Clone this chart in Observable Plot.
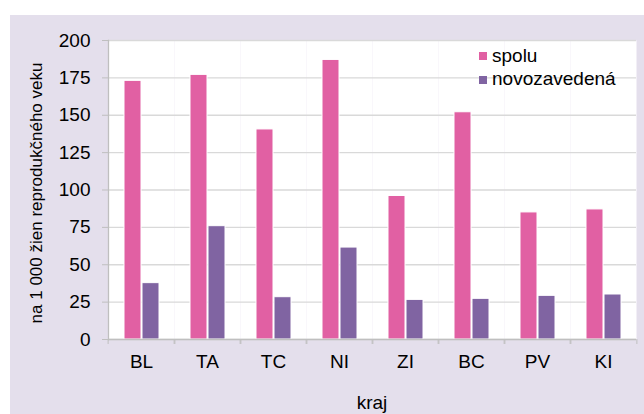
<!DOCTYPE html>
<html>
<head>
<meta charset="utf-8">
<script src="https://cdn.jsdelivr.net/npm/d3@7"></script>
<script src="https://cdn.jsdelivr.net/npm/@observablehq/plot@0.6"></script>
<style>
  body { margin: 0; background: white; font-family: "Liberation Sans", Arial, sans-serif; }
  #wrap { position: relative; width: 644px; height: 414px; overflow: hidden; }
  #bg { position: absolute; left: 10px; top: 15px; right: 0; bottom: 0; background: #e4dfec; }
  #chart { position: absolute; left: 0; top: 0; }
</style>
</head>
<body>
<div id="wrap"><div id="bg"></div><div id="chart"></div></div>
<script>
const categories = ["BL", "TA", "TC", "NI", "ZI", "BC", "PV", "KI"];
const spolu = [173, 177, 140.5, 187, 96, 152, 85, 87];
const novozavedena = [37.7, 75.8, 28.3, 61.5, 26.5, 27.2, 29.2, 30.1];
const seriesNames = ["spolu", "novozavedená"];
const seriesColors = ["#e160a3", "#8064a2"];
const yTicks = [0, 25, 50, 75, 100, 125, 150, 175, 200];
const yLabel = "na 1 000 žien reprodukčného veku";
const xLabel = "kraj";

const data = categories.flatMap((k, i) => [
  {kraj: k, series: seriesNames[0], value: spolu[i]},
  {kraj: k, series: seriesNames[1], value: novozavedena[i]}
]);

const W = 644, H = 414, mL = 105, mR = 5, mT = 40, mB = 75;
const halfStep = (W - mL - mR) / categories.length / 2;
const font = "Liberation Sans, Arial, sans-serif";

const chart = Plot.plot({
  width: W, height: H,
  marginLeft: mL, marginRight: mR, marginTop: mT, marginBottom: mB,
  style: {background: "transparent", fontFamily: font, fontSize: "19px", color: "black"},
  fx: {domain: categories, padding: 0, label: null, axis: null},
  x: {domain: seriesNames, paddingInner: 0.07, paddingOuter: 0.79, axis: null},
  y: {domain: [0, 200], axis: null},
  color: {domain: seriesNames, range: seriesColors},
  marks: [
    Plot.frame({fill: "white", stroke: "none"}),
    Plot.gridY(yTicks, {stroke: "#d9d9d9", strokeOpacity: 1, strokeWidth: 1.3}),
    Plot.barY(data, {fx: "kraj", x: "series", y: "value", fill: "series", stroke: "white", strokeWidth: 1}),
    Plot.ruleY([0], {stroke: "#bfbfbf", strokeWidth: 1.3}),
    Plot.frame({anchor: "left", stroke: "#bfbfbf", strokeWidth: 1.3, facetAnchor: "left"}),
    Plot.axisY(yTicks, {tickSize: 6, tickPadding: 12, stroke: "#bfbfbf", fill: "black", fontSize: 19, label: null}),
    Plot.axisFx({anchor: "bottom", tickSize: 0, tickPadding: 15, fontSize: 19, fill: "black", label: null}),
    Plot.axisFx({anchor: "bottom", tickSize: 5, tickFormat: () => "", dx: -halfStep, stroke: "#bfbfbf", label: null}),
    Plot.axisFx({anchor: "bottom", tickSize: 5, tickFormat: () => "", dx: halfStep, stroke: "#bfbfbf", label: null})
  ]
});

const svg = d3.select(chart);
// y axis title
svg.append("text")
  .attr("transform", `translate(42,193) rotate(-90)`)
  .attr("text-anchor", "middle")
  .attr("font-family", font).attr("font-size", 17).attr("fill", "black")
  .text(yLabel);
// x axis title
svg.append("text")
  .attr("x", mL + (W - mL - mR) / 2).attr("y", 409)
  .attr("text-anchor", "middle")
  .attr("font-family", font).attr("font-size", 19).attr("fill", "black")
  .text(xLabel);
// legend
const lg = svg.append("g");
seriesNames.forEach((s, i) => {
  lg.append("rect").attr("x", 479).attr("y", 52 + i * 24).attr("width", 8).attr("height", 8).attr("fill", seriesColors[i]);
  lg.append("text").attr("x", 492).attr("y", 61.5 + i * 23.5)
    .attr("text-anchor", "start")
    .attr("font-family", font).attr("font-size", 19).attr("fill", "black").text(s);
});

document.getElementById("chart").appendChild(chart);
</script>
</body>
</html>
